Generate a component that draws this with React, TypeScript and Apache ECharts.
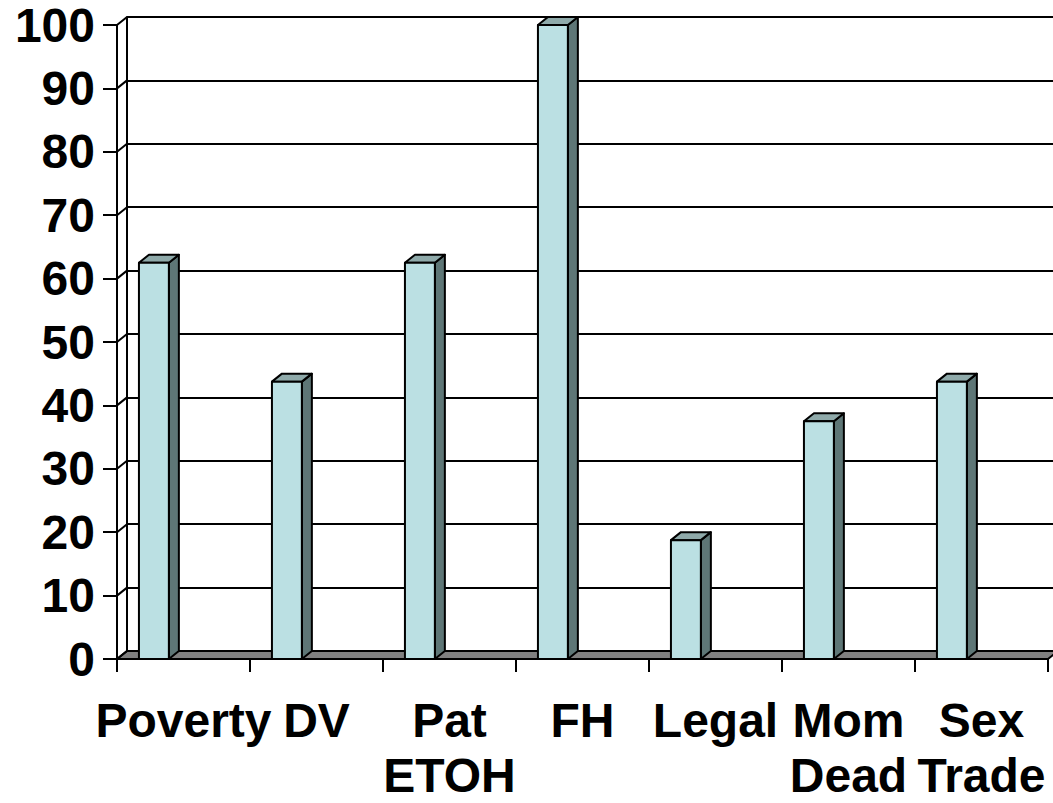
import React, { useEffect, useRef } from "react";
import * as echarts from "echarts";

// Categories, values and axis ticks
const categories = ["Poverty", "DV", "Pat\nETOH", "FH", "Legal", "Mom\nDead", "Sex\nTrade"];
const values = [62.5, 43.75, 62.5, 100, 18.75, 37.5, 43.75];
const yTicks = [0, 10, 20, 30, 40, 50, 60, 70, 80, 90, 100];

// 3D look: depth offset of the back wall and bar faces
const DX = 10;
const DY = -8;
const FRONT = "#BBE0E3";
const TOP = "#8FAAAA";
const SIDE = "#5E7676";
const FLOOR = "#808080";
const INK = "#000000";
const FONT = "Liberation Sans, Arial, sans-serif";

export default function App() {
  const ref = useRef<HTMLDivElement>(null);

  useEffect(() => {
    if (!ref.current) return;
    const chart = echarts.init(ref.current, null, { renderer: "svg" });

    const lineStyle = { color: INK, width: 2 };
    const labelStyle = {
      fontSize: 48,
      fontWeight: "bold" as const,
      fontFamily: FONT,
      color: INK,
    };

    const option: any = {
      animation: false,
      backgroundColor: "#ffffff",
      grid: [
        { left: 117, right: 5, top: 25, bottom: 144, outerBoundsMode: "none" },
        { left: 117 + DX, right: 0, top: 25 + DY, bottom: 144 - DY, outerBoundsMode: "none" },
      ],
      xAxis: [
        {
          type: "category",
          gridIndex: 0,
          data: categories,
          boundaryGap: true,
          axisLine: { show: true, lineStyle },
          axisTick: { show: true, length: 13, lineStyle },
          axisLabel: {
            ...labelStyle,
            interval: 0,
            margin: 24,
            formatter: (value: string) => {
              const lines = value.split("\n");
              return lines.length > 1 ? `{a|${lines[0]}}\n{b|${lines[1]}}` : `{a|${value}}`;
            },
            rich: {
              a: { ...labelStyle, lineHeight: 74 },
              b: { ...labelStyle, lineHeight: 36 },
            },
          },
          splitLine: { show: false },
        },
        { type: "category", gridIndex: 1, data: categories, show: false },
      ],
      yAxis: [
        {
          type: "value",
          gridIndex: 0,
          min: 0,
          max: 100,
          interval: 10,
          axisLine: { show: true, lineStyle },
          axisTick: { show: true, length: 14, lineStyle },
          axisLabel: { ...labelStyle, margin: 22 },
          splitLine: { show: false },
        },
        {
          type: "value",
          gridIndex: 1,
          min: 0,
          max: 100,
          interval: 10,
          axisLine: { show: true, lineStyle },
          axisTick: { show: false },
          axisLabel: { show: false },
          splitLine: { show: true, lineStyle },
        },
      ],
      series: [
        {
          // floor slab and the left wall's depth edges
          type: "custom",
          xAxisIndex: 0,
          yAxisIndex: 0,
          data: [[0, 0]],
          z: 3,
          renderItem: (params: any, api: any) => {
            const cs = params.coordSys;
            const x0 = cs.x;
            const x1 = cs.x + cs.width;
            const yb = cs.y + cs.height;
            const children: any[] = [
              {
                type: "polygon",
                shape: {
                  points: [
                    [x0, yb],
                    [x0 + DX, yb + DY],
                    [x1 + DX, yb + DY],
                    [x1, yb],
                  ],
                },
                style: { fill: FLOOR, stroke: INK, lineWidth: 2, lineJoin: "round" },
              },
            ];
            yTicks.forEach((t) => {
              const y = api.coord([0, t])[1];
              children.push({
                type: "line",
                shape: { x1: x0, y1: y, x2: x0 + DX, y2: y + DY },
                style: { stroke: INK, lineWidth: 2 },
              });
            });
            return { type: "group", children };
          },
        },
        {
          // 3D columns
          type: "custom",
          xAxisIndex: 0,
          yAxisIndex: 0,
          z: 4,
          data: values.map((v, i) => [i, v]),
          encode: { x: 0, y: 1 },
          renderItem: (_params: any, api: any) => {
            const idx = api.value(0);
            const v = api.value(1);
            const [cx, yTop] = api.coord([idx, v]);
            const yBase = api.coord([idx, 0])[1];
            const bw = api.size([1, 0])[0];
            const x0 = cx - bw / 2 + bw * 0.165;
            const w = bw * 0.225;
            const x1 = x0 + w;
            const edge = { stroke: INK, lineWidth: 2, lineJoin: "round" };
            return {
              type: "group",
              children: [
                {
                  type: "polygon",
                  shape: {
                    points: [
                      [x1, yBase],
                      [x1 + DX, yBase + DY],
                      [x1 + DX, yTop + DY],
                      [x1, yTop],
                    ],
                  },
                  style: { fill: SIDE, ...edge },
                },
                {
                  type: "polygon",
                  shape: {
                    points: [
                      [x0, yTop],
                      [x0 + DX, yTop + DY],
                      [x1 + DX, yTop + DY],
                      [x1, yTop],
                    ],
                  },
                  style: { fill: TOP, ...edge },
                },
                {
                  type: "rect",
                  shape: { x: x0, y: yTop, width: w, height: yBase - yTop },
                  style: { fill: FRONT, ...edge },
                },
              ],
            };
          },
        },
      ],
    };

    chart.setOption(option);
    return () => chart.dispose();
  }, []);

  return (
    <div
      ref={ref}
      style={{ position: "fixed", left: 0, top: 0, width: 1053, height: 803, background: "#fff" }}
    />
  );
}
